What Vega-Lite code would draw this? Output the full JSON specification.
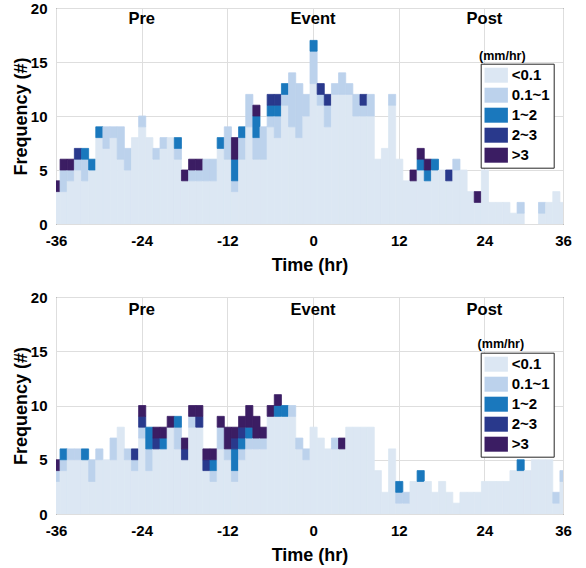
{
  "$schema": "https://vega.github.io/schema/vega-lite/v6.json",
  "autosize": {"type": "pad"},
  "padding": {"left": 11, "top": 0, "right": 5, "bottom": 5},
  "background": "white",
  "config": {
    "font": "Liberation Sans",
    "view": {"stroke": "#262626", "strokeWidth": 1},
    "axis": {
      "labelFont": "Liberation Sans", "labelFontWeight": "bold", "labelFontSize": 15, "labelColor": "black",
      "titleFont": "Liberation Sans", "titleFontWeight": "bold", "titleFontSize": 18, "titleColor": "black",
      "domain": false, "ticks": false, "gridColor": "#dedede", "gridWidth": 1, "labelFlush": false
    },
    "legend": {
      "labelFont": "Liberation Sans", "labelFontWeight": "bold", "labelFontSize": 15, "labelColor": "black"
    }
  },
  "datasets": {
    "cls": [
      {"c": "<0.1", "r": 1}, {"c": "0.1~1", "r": 2}, {"c": "1~2", "r": 3}, {"c": "2~3", "r": 4}, {"c": ">3", "r": 5}
    ],
    "tags": [
      {"h": -24, "lab": "Pre"}, {"h": 0, "lab": "Event"}, {"h": 24, "lab": "Post"}
    ],
    "unit": [{"lab": "(mm/hr)"}],
    "a": [
      {"h": -36, "c": "<0.1", "n": 3}, {"h": -36, "c": ">3", "n": 1},
      {"h": -35, "c": "<0.1", "n": 3}, {"h": -35, "c": "0.1~1", "n": 2}, {"h": -35, "c": ">3", "n": 1},
      {"h": -34, "c": "<0.1", "n": 4}, {"h": -34, "c": "0.1~1", "n": 1}, {"h": -34, "c": ">3", "n": 1},
      {"h": -33, "c": "<0.1", "n": 5}, {"h": -33, "c": "0.1~1", "n": 1}, {"h": -33, "c": "2~3", "n": 1},
      {"h": -32, "c": "<0.1", "n": 4}, {"h": -32, "c": "0.1~1", "n": 2}, {"h": -32, "c": "1~2", "n": 1},
      {"h": -31, "c": "<0.1", "n": 5}, {"h": -31, "c": "1~2", "n": 1},
      {"h": -30, "c": "<0.1", "n": 8}, {"h": -30, "c": "1~2", "n": 1},
      {"h": -29, "c": "<0.1", "n": 7}, {"h": -29, "c": "0.1~1", "n": 2},
      {"h": -28, "c": "<0.1", "n": 8}, {"h": -28, "c": "0.1~1", "n": 1},
      {"h": -27, "c": "<0.1", "n": 6}, {"h": -27, "c": "0.1~1", "n": 3},
      {"h": -26, "c": "<0.1", "n": 5}, {"h": -26, "c": "0.1~1", "n": 2},
      {"h": -25, "c": "<0.1", "n": 8},
      {"h": -24, "c": "<0.1", "n": 9}, {"h": -24, "c": "0.1~1", "n": 1},
      {"h": -23, "c": "<0.1", "n": 8},
      {"h": -22, "c": "<0.1", "n": 6}, {"h": -22, "c": "0.1~1", "n": 1},
      {"h": -21, "c": "<0.1", "n": 7}, {"h": -21, "c": "0.1~1", "n": 1},
      {"h": -20, "c": "<0.1", "n": 8},
      {"h": -19, "c": "<0.1", "n": 6}, {"h": -19, "c": "0.1~1", "n": 1}, {"h": -19, "c": "1~2", "n": 1},
      {"h": -18, "c": "<0.1", "n": 4}, {"h": -18, "c": ">3", "n": 1},
      {"h": -17, "c": "<0.1", "n": 4}, {"h": -17, "c": "0.1~1", "n": 1}, {"h": -17, "c": ">3", "n": 1},
      {"h": -16, "c": "<0.1", "n": 4}, {"h": -16, "c": "0.1~1", "n": 1}, {"h": -16, "c": ">3", "n": 1},
      {"h": -15, "c": "<0.1", "n": 4}, {"h": -15, "c": "0.1~1", "n": 2},
      {"h": -14, "c": "<0.1", "n": 4}, {"h": -14, "c": "0.1~1", "n": 2},
      {"h": -13, "c": "<0.1", "n": 7}, {"h": -13, "c": "1~2", "n": 1},
      {"h": -12, "c": "<0.1", "n": 6}, {"h": -12, "c": "0.1~1", "n": 3},
      {"h": -11, "c": "<0.1", "n": 3}, {"h": -11, "c": "0.1~1", "n": 1}, {"h": -11, "c": "1~2", "n": 2}, {"h": -11, "c": ">3", "n": 2},
      {"h": -10, "c": "<0.1", "n": 6}, {"h": -10, "c": "0.1~1", "n": 2}, {"h": -10, "c": "1~2", "n": 1},
      {"h": -9, "c": "<0.1", "n": 9}, {"h": -9, "c": "0.1~1", "n": 3},
      {"h": -8, "c": "<0.1", "n": 6}, {"h": -8, "c": "0.1~1", "n": 2}, {"h": -8, "c": "1~2", "n": 2}, {"h": -8, "c": ">3", "n": 1},
      {"h": -7, "c": "<0.1", "n": 6}, {"h": -7, "c": "0.1~1", "n": 3},
      {"h": -6, "c": "<0.1", "n": 9}, {"h": -6, "c": "0.1~1", "n": 1}, {"h": -6, "c": "1~2", "n": 1}, {"h": -6, "c": "2~3", "n": 1},
      {"h": -5, "c": "<0.1", "n": 8}, {"h": -5, "c": "0.1~1", "n": 2}, {"h": -5, "c": "1~2", "n": 1}, {"h": -5, "c": "2~3", "n": 1},
      {"h": -4, "c": "<0.1", "n": 11}, {"h": -4, "c": "0.1~1", "n": 1}, {"h": -4, "c": "1~2", "n": 1},
      {"h": -3, "c": "<0.1", "n": 9}, {"h": -3, "c": "0.1~1", "n": 5},
      {"h": -2, "c": "<0.1", "n": 8}, {"h": -2, "c": "0.1~1", "n": 5},
      {"h": -1, "c": "<0.1", "n": 10}, {"h": -1, "c": "0.1~1", "n": 2},
      {"h": 0, "c": "<0.1", "n": 13}, {"h": 0, "c": "0.1~1", "n": 3}, {"h": 0, "c": "1~2", "n": 1},
      {"h": 1, "c": "<0.1", "n": 11}, {"h": 1, "c": "0.1~1", "n": 1}, {"h": 1, "c": "2~3", "n": 1},
      {"h": 2, "c": "<0.1", "n": 9}, {"h": 2, "c": "0.1~1", "n": 2}, {"h": 2, "c": "2~3", "n": 1},
      {"h": 3, "c": "<0.1", "n": 12}, {"h": 3, "c": "0.1~1", "n": 1},
      {"h": 4, "c": "<0.1", "n": 12}, {"h": 4, "c": "0.1~1", "n": 2},
      {"h": 5, "c": "<0.1", "n": 12}, {"h": 5, "c": "0.1~1", "n": 1},
      {"h": 6, "c": "<0.1", "n": 10}, {"h": 6, "c": "0.1~1", "n": 2},
      {"h": 7, "c": "<0.1", "n": 10}, {"h": 7, "c": "0.1~1", "n": 1}, {"h": 7, "c": "2~3", "n": 1},
      {"h": 8, "c": "<0.1", "n": 10}, {"h": 8, "c": "0.1~1", "n": 2},
      {"h": 9, "c": "<0.1", "n": 6},
      {"h": 10, "c": "<0.1", "n": 7},
      {"h": 11, "c": "<0.1", "n": 11}, {"h": 11, "c": "0.1~1", "n": 1},
      {"h": 12, "c": "<0.1", "n": 6},
      {"h": 13, "c": "<0.1", "n": 4},
      {"h": 14, "c": "<0.1", "n": 4}, {"h": 14, "c": ">3", "n": 1},
      {"h": 15, "c": "<0.1", "n": 5}, {"h": 15, "c": "1~2", "n": 1}, {"h": 15, "c": ">3", "n": 1},
      {"h": 16, "c": "<0.1", "n": 4}, {"h": 16, "c": "1~2", "n": 1}, {"h": 16, "c": ">3", "n": 1},
      {"h": 17, "c": "<0.1", "n": 5}, {"h": 17, "c": "1~2", "n": 1},
      {"h": 18, "c": "<0.1", "n": 5},
      {"h": 19, "c": "<0.1", "n": 4}, {"h": 19, "c": "2~3", "n": 1},
      {"h": 20, "c": "<0.1", "n": 5}, {"h": 20, "c": "0.1~1", "n": 1},
      {"h": 21, "c": "<0.1", "n": 5},
      {"h": 22, "c": "<0.1", "n": 3},
      {"h": 23, "c": "<0.1", "n": 2}, {"h": 23, "c": ">3", "n": 1},
      {"h": 24, "c": "<0.1", "n": 5},
      {"h": 25, "c": "<0.1", "n": 2},
      {"h": 26, "c": "<0.1", "n": 2},
      {"h": 27, "c": "<0.1", "n": 2},
      {"h": 28, "c": "<0.1", "n": 1},
      {"h": 29, "c": "<0.1", "n": 1}, {"h": 29, "c": "0.1~1", "n": 1},
      {"h": 32, "c": "<0.1", "n": 1}, {"h": 32, "c": "0.1~1", "n": 1},
      {"h": 33, "c": "<0.1", "n": 2},
      {"h": 34, "c": "<0.1", "n": 3},
      {"h": 35, "c": "<0.1", "n": 2}
    ],
    "b": [
      {"h": -36, "c": "<0.1", "n": 3}, {"h": -36, "c": "0.1~1", "n": 1}, {"h": -36, "c": ">3", "n": 1},
      {"h": -35, "c": "<0.1", "n": 4}, {"h": -35, "c": "0.1~1", "n": 1}, {"h": -35, "c": "1~2", "n": 1},
      {"h": -34, "c": "<0.1", "n": 5}, {"h": -34, "c": "0.1~1", "n": 1},
      {"h": -33, "c": "<0.1", "n": 5}, {"h": -33, "c": "0.1~1", "n": 1},
      {"h": -32, "c": "<0.1", "n": 5}, {"h": -32, "c": "1~2", "n": 1},
      {"h": -31, "c": "<0.1", "n": 3}, {"h": -31, "c": "0.1~1", "n": 2},
      {"h": -30, "c": "<0.1", "n": 5}, {"h": -30, "c": "0.1~1", "n": 1},
      {"h": -29, "c": "<0.1", "n": 5},
      {"h": -28, "c": "<0.1", "n": 5}, {"h": -28, "c": "0.1~1", "n": 2},
      {"h": -27, "c": "<0.1", "n": 8},
      {"h": -26, "c": "<0.1", "n": 5}, {"h": -26, "c": "0.1~1", "n": 1},
      {"h": -25, "c": "<0.1", "n": 4}, {"h": -25, "c": "0.1~1", "n": 1}, {"h": -25, "c": "2~3", "n": 1},
      {"h": -24, "c": "<0.1", "n": 7}, {"h": -24, "c": "0.1~1", "n": 1}, {"h": -24, "c": "2~3", "n": 1}, {"h": -24, "c": ">3", "n": 1},
      {"h": -23, "c": "<0.1", "n": 4}, {"h": -23, "c": "0.1~1", "n": 2}, {"h": -23, "c": "1~2", "n": 2},
      {"h": -22, "c": "<0.1", "n": 6}, {"h": -22, "c": "2~3", "n": 1}, {"h": -22, "c": ">3", "n": 1},
      {"h": -21, "c": "<0.1", "n": 6}, {"h": -21, "c": "1~2", "n": 1}, {"h": -21, "c": ">3", "n": 1},
      {"h": -20, "c": "<0.1", "n": 8}, {"h": -20, "c": ">3", "n": 1},
      {"h": -19, "c": "<0.1", "n": 6}, {"h": -19, "c": "0.1~1", "n": 2}, {"h": -19, "c": "1~2", "n": 1},
      {"h": -18, "c": "<0.1", "n": 5}, {"h": -18, "c": "2~3", "n": 1}, {"h": -18, "c": ">3", "n": 1},
      {"h": -17, "c": "<0.1", "n": 8}, {"h": -17, "c": "0.1~1", "n": 1}, {"h": -17, "c": ">3", "n": 1},
      {"h": -16, "c": "<0.1", "n": 8}, {"h": -16, "c": "2~3", "n": 1}, {"h": -16, "c": ">3", "n": 1},
      {"h": -15, "c": "<0.1", "n": 4}, {"h": -15, "c": "2~3", "n": 1}, {"h": -15, "c": ">3", "n": 1},
      {"h": -14, "c": "<0.1", "n": 3}, {"h": -14, "c": "0.1~1", "n": 1}, {"h": -14, "c": "1~2", "n": 1}, {"h": -14, "c": ">3", "n": 1},
      {"h": -13, "c": "<0.1", "n": 6}, {"h": -13, "c": "0.1~1", "n": 2}, {"h": -13, "c": ">3", "n": 1},
      {"h": -12, "c": "<0.1", "n": 5}, {"h": -12, "c": "0.1~1", "n": 1}, {"h": -12, "c": ">3", "n": 2},
      {"h": -11, "c": "<0.1", "n": 3}, {"h": -11, "c": "0.1~1", "n": 1}, {"h": -11, "c": "1~2", "n": 2}, {"h": -11, "c": "2~3", "n": 1}, {"h": -11, "c": ">3", "n": 1},
      {"h": -10, "c": "<0.1", "n": 5}, {"h": -10, "c": "0.1~1", "n": 1}, {"h": -10, "c": "1~2", "n": 1}, {"h": -10, "c": "2~3", "n": 1}, {"h": -10, "c": ">3", "n": 1},
      {"h": -9, "c": "<0.1", "n": 6}, {"h": -9, "c": "0.1~1", "n": 1}, {"h": -9, "c": "1~2", "n": 1}, {"h": -9, "c": ">3", "n": 2},
      {"h": -8, "c": "<0.1", "n": 6}, {"h": -8, "c": "0.1~1", "n": 1}, {"h": -8, "c": ">3", "n": 2},
      {"h": -7, "c": "<0.1", "n": 6}, {"h": -7, "c": "0.1~1", "n": 1}, {"h": -7, "c": ">3", "n": 1},
      {"h": -6, "c": "<0.1", "n": 9}, {"h": -6, "c": ">3", "n": 1},
      {"h": -5, "c": "<0.1", "n": 9}, {"h": -5, "c": "1~2", "n": 1}, {"h": -5, "c": ">3", "n": 1},
      {"h": -4, "c": "<0.1", "n": 9}, {"h": -4, "c": "1~2", "n": 1},
      {"h": -3, "c": "<0.1", "n": 9}, {"h": -3, "c": "0.1~1", "n": 1},
      {"h": -2, "c": "<0.1", "n": 6}, {"h": -2, "c": "0.1~1", "n": 1},
      {"h": -1, "c": "<0.1", "n": 5}, {"h": -1, "c": "0.1~1", "n": 1},
      {"h": 0, "c": "<0.1", "n": 8},
      {"h": 1, "c": "<0.1", "n": 7},
      {"h": 2, "c": "<0.1", "n": 6},
      {"h": 3, "c": "<0.1", "n": 6}, {"h": 3, "c": "0.1~1", "n": 1},
      {"h": 4, "c": "<0.1", "n": 6}, {"h": 4, "c": ">3", "n": 1},
      {"h": 5, "c": "<0.1", "n": 8},
      {"h": 6, "c": "<0.1", "n": 8},
      {"h": 7, "c": "<0.1", "n": 8},
      {"h": 8, "c": "<0.1", "n": 8},
      {"h": 9, "c": "<0.1", "n": 4},
      {"h": 10, "c": "<0.1", "n": 2},
      {"h": 11, "c": "<0.1", "n": 6},
      {"h": 12, "c": "<0.1", "n": 1}, {"h": 12, "c": "0.1~1", "n": 1}, {"h": 12, "c": "1~2", "n": 1},
      {"h": 13, "c": "<0.1", "n": 1}, {"h": 13, "c": "0.1~1", "n": 1},
      {"h": 14, "c": "<0.1", "n": 3},
      {"h": 15, "c": "<0.1", "n": 3}, {"h": 15, "c": "1~2", "n": 1},
      {"h": 16, "c": "<0.1", "n": 3},
      {"h": 17, "c": "<0.1", "n": 2},
      {"h": 18, "c": "<0.1", "n": 3},
      {"h": 19, "c": "<0.1", "n": 2},
      {"h": 20, "c": "<0.1", "n": 1},
      {"h": 21, "c": "<0.1", "n": 2},
      {"h": 22, "c": "<0.1", "n": 2},
      {"h": 23, "c": "<0.1", "n": 2},
      {"h": 24, "c": "<0.1", "n": 3},
      {"h": 25, "c": "<0.1", "n": 3},
      {"h": 26, "c": "<0.1", "n": 3},
      {"h": 27, "c": "<0.1", "n": 3},
      {"h": 28, "c": "<0.1", "n": 4},
      {"h": 29, "c": "<0.1", "n": 4}, {"h": 29, "c": "1~2", "n": 1},
      {"h": 30, "c": "<0.1", "n": 4},
      {"h": 31, "c": "<0.1", "n": 5},
      {"h": 32, "c": "<0.1", "n": 5},
      {"h": 33, "c": "<0.1", "n": 5},
      {"h": 34, "c": "<0.1", "n": 1}, {"h": 34, "c": "0.1~1", "n": 1},
      {"h": 35, "c": "<0.1", "n": 3}, {"h": 35, "c": "0.1~1", "n": 1}
    ]
  },
  "bounds": "flush",
  "spacing": 73,
  "resolve": {"legend": {"color": "independent", "stroke": "independent"}},
  "vconcat": [
    {
      "width": 507,
      "height": 216,
      "layer": [
        {
          "data": {"name": "a"},
          "transform": [{"lookup": "c", "from": {"data": {"name": "cls"}, "key": "c", "fields": ["r"]}}],
          "mark": {"type": "bar", "clip": true, "binSpacing": 0, "strokeWidth": 0.8},
          "encoding": {
            "x": {"field": "h", "type": "quantitative", "bin": {"step": 1, "extent": [-36.5, 35.5], "nice": false},
                  "scale": {"domain": [-36, 35], "nice": false, "zero": false}, "title": "Time (hr)",
                  "axis": {"values": [-36, -24, -12, 0, 12, 24, 35], "labelExpr": "datum.value >= 35 ? '36' : '' + datum.value", "grid": true, "labelPadding": 9, "titlePadding": 8}},
            "y": {"aggregate": "sum", "field": "n", "type": "quantitative", "scale": {"domain": [0, 20], "nice": false}, "title": "Frequency (#)",
                  "axis": {"values": [0, 5, 10, 15, 20], "grid": true, "labelPadding": 9, "titlePadding": 0}},
            "color": {"field": "c", "type": "nominal",
                      "scale": {"domain": ["<0.1", "0.1~1", "1~2", "2~3", ">3"], "range": ["#dce7f3", "#bcd2ec", "#1a78bd", "#29398c", "#3b1d63"]},
                      "legend": {"title": null, "orient": "none", "legendX": 424.7, "legendY": 55.7, "strokeColor": "#262626", "fillColor": "white",
                                 "padding": 4, "symbolType": "M-1.56,-1L1.56,-1L1.56,1L-1.56,1Z", "symbolSize": 225, "symbolStrokeWidth": 0, "symbolOpacity": 1,
                                 "symbolOffset": 4, "rowPadding": 4, "labelOffset": 8}},
            "stroke": {"field": "c", "type": "nominal",
                       "scale": {"domain": ["<0.1", "0.1~1", "1~2", "2~3", ">3"], "range": ["#dce7f3", "#bcd2ec", "#1a78bd", "#29398c", "#3b1d63"]},
                       "legend": null},
            "order": {"field": "r", "type": "quantitative"}
          }
        },
        {
          "data": {"name": "tags"},
          "mark": {"type": "text", "fontWeight": "bold", "fontSize": 16.5, "font": "Liberation Sans", "color": "black", "align": "center", "baseline": "middle"},
          "encoding": {
            "x": {"field": "h", "type": "quantitative", "title": "Time (hr)", "scale": {"domain": [-36, 35], "nice": false, "zero": false}},
            "y": {"datum": 19, "type": "quantitative", "title": "Frequency (#)", "scale": {"domain": [0, 20], "nice": false}},
            "text": {"field": "lab"}
          }
        },
        {
          "data": {"name": "unit"},
          "mark": {"type": "text", "fontWeight": "bold", "fontSize": 12.5, "font": "Liberation Sans", "color": "black", "align": "center", "baseline": "middle"},
          "encoding": {
            "x": {"datum": 26.5, "type": "quantitative", "title": "Time (hr)", "scale": {"domain": [-36, 35], "nice": false, "zero": false}},
            "y": {"datum": 15.6, "type": "quantitative", "title": "Frequency (#)", "scale": {"domain": [0, 20], "nice": false}},
            "text": {"field": "lab"}
          }
        }
      ]
    },
    {
      "width": 507,
      "height": 217,
      "layer": [
        {
          "data": {"name": "b"},
          "transform": [{"lookup": "c", "from": {"data": {"name": "cls"}, "key": "c", "fields": ["r"]}}],
          "mark": {"type": "bar", "clip": true, "binSpacing": 0, "strokeWidth": 0.8},
          "encoding": {
            "x": {"field": "h", "type": "quantitative", "bin": {"step": 1, "extent": [-36.5, 35.5], "nice": false},
                  "scale": {"domain": [-36, 35], "nice": false, "zero": false}, "title": "Time (hr)",
                  "axis": {"values": [-36, -24, -12, 0, 12, 24, 35], "labelExpr": "datum.value >= 35 ? '36' : '' + datum.value", "grid": true, "labelPadding": 9, "titlePadding": 8}},
            "y": {"aggregate": "sum", "field": "n", "type": "quantitative", "scale": {"domain": [0, 20], "nice": false}, "title": "Frequency (#)",
                  "axis": {"values": [0, 5, 10, 15, 20], "grid": true, "labelPadding": 9, "titlePadding": 0}},
            "color": {"field": "c", "type": "nominal",
                      "scale": {"domain": ["<0.1", "0.1~1", "1~2", "2~3", ">3"], "range": ["#dce7f3", "#bcd2ec", "#1a78bd", "#29398c", "#3b1d63"]},
                      "legend": {"title": null, "orient": "none", "legendX": 424.7, "legendY": 55.7, "strokeColor": "#262626", "fillColor": "white",
                                 "padding": 4, "symbolType": "M-1.56,-1L1.56,-1L1.56,1L-1.56,1Z", "symbolSize": 225, "symbolStrokeWidth": 0, "symbolOpacity": 1,
                                 "symbolOffset": 4, "rowPadding": 4, "labelOffset": 8}},
            "stroke": {"field": "c", "type": "nominal",
                       "scale": {"domain": ["<0.1", "0.1~1", "1~2", "2~3", ">3"], "range": ["#dce7f3", "#bcd2ec", "#1a78bd", "#29398c", "#3b1d63"]},
                       "legend": null},
            "order": {"field": "r", "type": "quantitative"}
          }
        },
        {
          "data": {"name": "tags"},
          "mark": {"type": "text", "fontWeight": "bold", "fontSize": 16.5, "font": "Liberation Sans", "color": "black", "align": "center", "baseline": "middle"},
          "encoding": {
            "x": {"field": "h", "type": "quantitative", "title": "Time (hr)", "scale": {"domain": [-36, 35], "nice": false, "zero": false}},
            "y": {"datum": 18.8, "type": "quantitative", "title": "Frequency (#)", "scale": {"domain": [0, 20], "nice": false}},
            "text": {"field": "lab"}
          }
        },
        {
          "data": {"name": "unit"},
          "mark": {"type": "text", "fontWeight": "bold", "fontSize": 12.5, "font": "Liberation Sans", "color": "black", "align": "center", "baseline": "middle"},
          "encoding": {
            "x": {"datum": 26.3, "type": "quantitative", "title": "Time (hr)", "scale": {"domain": [-36, 35], "nice": false, "zero": false}},
            "y": {"datum": 15.7, "type": "quantitative", "title": "Frequency (#)", "scale": {"domain": [0, 20], "nice": false}},
            "text": {"field": "lab"}
          }
        }
      ]
    }
  ]
}
